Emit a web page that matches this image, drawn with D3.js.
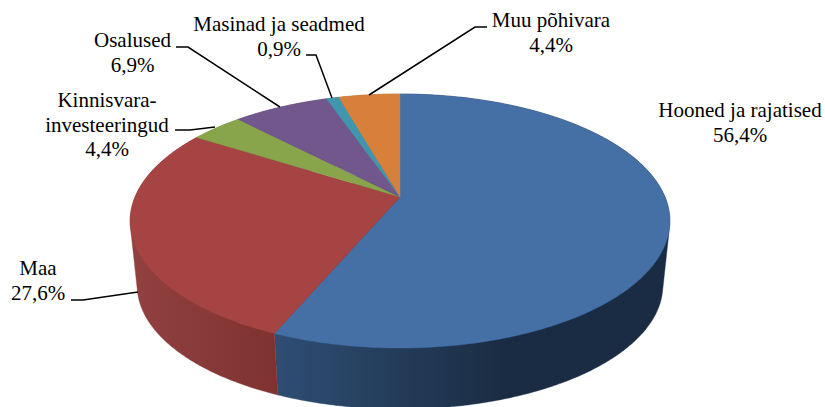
<!DOCTYPE html>
<html><head><meta charset="utf-8">
<script src="https://cdnjs.cloudflare.com/ajax/libs/d3/7.8.5/d3.min.js"></script>
<style>html,body{margin:0;padding:0;background:#fff}svg{display:block}
text{font-family:"Liberation Serif",serif;font-size:21px;fill:#000;text-anchor:middle}</style>
</head><body><svg id="c" width="825" height="407"></svg>
<script>
// Data. The green slice is drawn narrower than its printed label.
const categories = ["Hooned ja rajatised","Maa","Kinnisvara-investeeringud","Osalused","Masinad ja seadmed","Muu põhivara"];
const values = [56.4,27.6,3.8,6.9,0.9,4.4];
const labelLines = [["Hooned ja rajatised","56,4%"],["Maa","27,6%"],["Kinnisvara-","investeeringud","4,4%"],["Osalused","6,9%"],["Masinad ja seadmed","0,9%"],["Muu põhivara","4,4%"]];
const topColors = ["#4570a6","#a54442","#88a54c","#72578c","#3f97af","#d6803c"];
const sideColors = [["#2f4e74","#1a2c43"],["#914140","#7e3330"],["#6a803b","#6a803b"],["#58436d","#58436d"],["#317588","#317588"],["#a7632e","#a7632e"]];

// layout
const labelPos = [[740,117],[38,275],[107,107],[132.5,47],[279,31],[551,27]];
const lineH = 24.7;
const leaders = [null,
 [[71,300],[83,300],[138,292]],
 [[175,130],[190,130],[215,127]],
 [[176,47],[188,47],[280,107]],
 [[306,55],[316,55],[332,98]],
 [[487,27],[475,27],[369,95]]];
const cx=400, apexY=197, a=265, b=122.5, k=0.189, depth=65, backScale=0.974;

const svg=d3.select("#c");
const project=(th,s,dy)=>{const u=Math.sin(th),v=-Math.cos(th),w=1-k*v;
  return [cx+s*a*u/w, apexY+dy+s*b*v/w];};
const arcs=d3.pie().sort(null).value(d=>d)(values);
const samples=(s,e)=>{const n=Math.max(2,Math.ceil((e-s)/0.01));return d3.range(n+1).map(i=>s+(e-s)*i/n);};
const line=d3.line();
const defs=svg.append("defs");

// side wall: hull of the top and bottom rim of each slice
arcs.forEach((d,i)=>{
  const ts=samples(d.startAngle,d.endAngle);
  const pts=d3.polygonHull(ts.map(t=>project(t,1,0)).concat(ts.map(t=>project(t,backScale,depth))));
  const id="g"+i;
  const xs=pts.map(p=>p[0]);
  let x1=d3.min(xs),x2=d3.max(xs);
  if(i===0){x1=project(d.endAngle,1,0)[0]; x2=x1+230;}
  if(i===1){x2=project(d.startAngle,1,0)[0];}
  const g=defs.append("linearGradient").attr("id",id).attr("gradientUnits","userSpaceOnUse")
    .attr("x1",x1).attr("x2",x2).attr("y1",0).attr("y2",0);
  g.append("stop").attr("offset",0).attr("stop-color",sideColors[i][0]);
  g.append("stop").attr("offset",1).attr("stop-color",sideColors[i][1]);
  svg.append("path").attr("d",line(pts)+"Z").attr("fill",`url(#${id})`).attr("stroke",`url(#${id})`).attr("stroke-width",0.4);
});
// top face
arcs.forEach((d,i)=>{
  const pts=[[cx,apexY]].concat(samples(d.startAngle,d.endAngle).map(t=>project(t,1,0)));
  svg.append("path").attr("d",line(pts)+"Z").attr("fill",topColors[i]).attr("stroke",topColors[i]).attr("stroke-width",0.4);
});
// leaders
leaders.forEach(l=>{ if(l) svg.append("path").attr("d",line(l)).attr("fill","none").attr("stroke","#000").attr("stroke-width",1.5);});
// labels
labelLines.forEach((ls,i)=>{
  const t=svg.append("text").attr("x",labelPos[i][0]).attr("y",labelPos[i][1]);
  ls.forEach((s,j)=>t.append("tspan").attr("x",labelPos[i][0]).attr("y",labelPos[i][1]+j*lineH).text(s));
});
</script></body></html>
